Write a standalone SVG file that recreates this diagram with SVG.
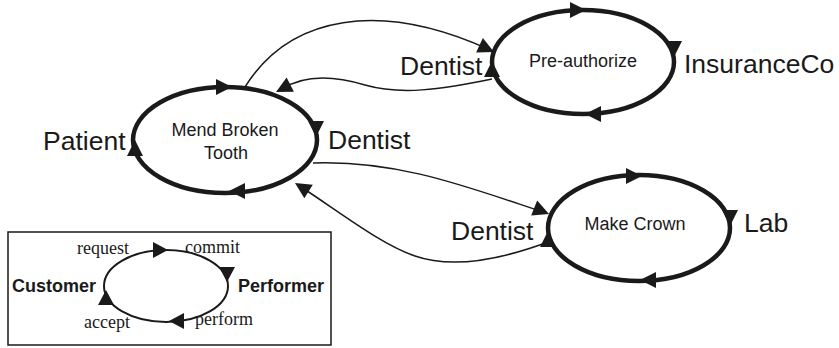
<svg xmlns="http://www.w3.org/2000/svg" width="839" height="348" viewBox="0 0 839 348">
<style>
.big{fill:none;stroke:#1a1a1a;stroke-width:4.5}
.leg{fill:none;stroke:#1a1a1a;stroke-width:2}
.con{fill:none;stroke:#1a1a1a;stroke-width:1.5}
.lbl{font-family:"Liberation Sans",Arial,sans-serif;font-size:26.5px;fill:#1a1a1a}
.in{font-family:"Liberation Sans",Arial,sans-serif;font-size:18px;fill:#1a1a1a;text-anchor:middle}
.ser{font-family:"Liberation Serif","Times New Roman",serif;font-size:18px;fill:#1a1a1a}
.bold{font-family:"Liberation Sans",Arial,sans-serif;font-size:18px;font-weight:bold;fill:#1a1a1a}
.ah{fill:#1a1a1a}
</style>
<defs>
<path id="ah" d="M0,0 L-16,-8 L-16,8 Z"/>
<path id="ahs" d="M0,0 L-15,-8 L-15,8 Z"/>
</defs>
<g id="connectors">
<path class="con" d="M245,87 C290,15 380,0 490,50"/>
<use href="#ah" class="ah" transform="translate(494,52) rotate(25)"/>
<path class="con" d="M492,79 C440,90 400,95 365,85 C335,76 305,74 282,89"/>
<use href="#ah" class="ah" transform="translate(276,92) rotate(153)"/>
<path class="con" d="M313,163 C400,160 470,188 546,213"/>
<use href="#ah" class="ah" transform="translate(549,214) rotate(22)"/>
<path class="con" d="M548,242 C505,258 455,270 415,256 C380,244 340,212 298,185"/>
<use href="#ah" class="ah" transform="translate(295,183) rotate(212)"/>
</g>
<g id="mend">
<ellipse class="big" cx="225" cy="140" rx="92" ry="53"/>
<use href="#ah" class="ah" transform="translate(232,87) rotate(0)"/>
<use href="#ah" class="ah" transform="translate(316,137) rotate(90)"/>
<use href="#ah" class="ah" transform="translate(229,191) rotate(180)"/>
<use href="#ah" class="ah" transform="translate(135,140) rotate(-90)"/>
<text class="in" x="225" y="136">Mend Broken</text>
<text class="in" x="226" y="159">Tooth</text>
<text class="lbl" x="43" y="150">Patient</text>
<text class="lbl" x="328" y="149">Dentist</text>
</g>
<g id="preauth">
<ellipse class="big" cx="583" cy="62" rx="91" ry="52"/>
<use href="#ah" class="ah" transform="translate(586,10) rotate(0)"/>
<use href="#ah" class="ah" transform="translate(674,57) rotate(90)"/>
<use href="#ah" class="ah" transform="translate(585,114) rotate(180)"/>
<use href="#ah" class="ah" transform="translate(492,61) rotate(-90)"/>
<text class="in" x="583" y="67">Pre-authorize</text>
<text class="lbl" x="400" y="75">Dentist</text>
<text class="lbl" x="684" y="73">InsuranceCo</text>
</g>
<g id="crown">
<ellipse class="big" cx="639" cy="228" rx="91" ry="53"/>
<use href="#ah" class="ah" transform="translate(642,176) rotate(0)"/>
<use href="#ah" class="ah" transform="translate(730,226) rotate(90)"/>
<use href="#ah" class="ah" transform="translate(640,280) rotate(180)"/>
<use href="#ah" class="ah" transform="translate(548,231) rotate(-90)"/>
<text class="in" x="635" y="230">Make Crown</text>
<text class="lbl" x="451" y="240">Dentist</text>
<text class="lbl" x="744" y="232">Lab</text>
</g>
<g id="legend">
<rect x="8" y="232" width="323" height="113" fill="none" stroke="#1a1a1a" stroke-width="1.5"/>
<ellipse class="leg" cx="166" cy="286" rx="62" ry="36"/>
<use href="#ahs" class="ah" transform="translate(168,250) rotate(0)"/>
<use href="#ahs" class="ah" transform="translate(227,282) rotate(90)"/>
<use href="#ahs" class="ah" transform="translate(169,321) rotate(180)"/>
<use href="#ahs" class="ah" transform="translate(106,290) rotate(-90)"/>
<text class="ser" x="77" y="254">request</text>
<text class="ser" x="185" y="253">commit</text>
<text class="ser" x="84" y="328">accept</text>
<text class="ser" x="195" y="325">perform</text>
<text class="bold" x="12" y="292">Customer</text>
<text class="bold" x="238" y="292">Performer</text>
</g>
</svg>
